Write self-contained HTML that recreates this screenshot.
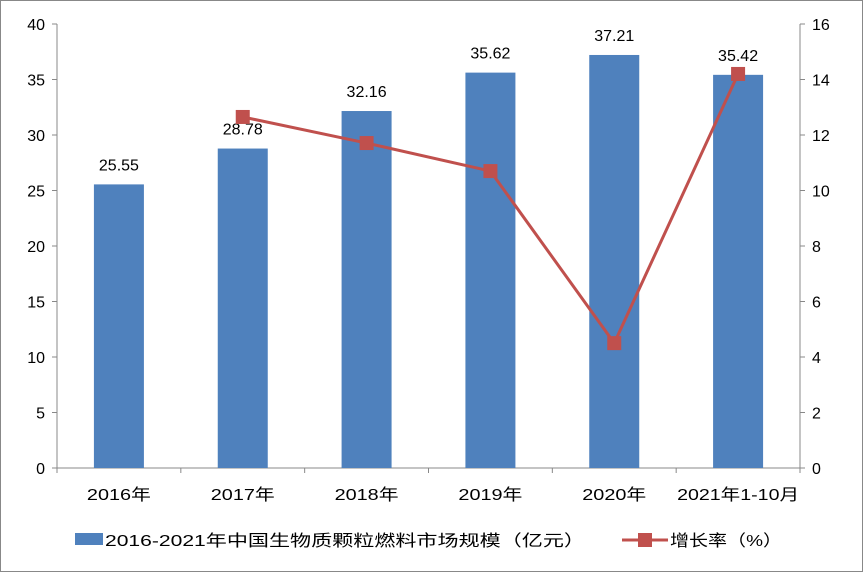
<!DOCTYPE html>
<html><head><meta charset="utf-8"><style>
body{margin:0;background:#fff;}
svg text{font-family:"Liberation Sans","Noto Sans CJK SC",sans-serif;font-size:16px;fill:#000;}
</style></head><body>
<svg width="864" height="573" xmlns="http://www.w3.org/2000/svg" id="c">
<rect x="0.5" y="0.5" width="862" height="571" fill="#fff" stroke="#888"/>
</svg>
<script>
const categories=["2016年","2017年","2018年","2019年","2020年","2021年1-10月"];
const barValues=[25.55,28.78,32.16,35.62,37.21,35.42];
const barLabels=["25.55","28.78","32.16","35.62","37.21","35.42"];
const growthValues=[null,12.65,11.71,10.70,4.50,14.20];
const leftTicks=[0,5,10,15,20,25,30,35,40];
const rightTicks=[0,2,4,6,8,10,12,14,16];
const svg=document.getElementById('c');const NS='http://www.w3.org/2000/svg';
const L=57,R=800,T=24,B=468;const cw=(R-L)/categories.length;
const yL=v=>B-(v/40)*(B-T);const yR=v=>B-(v/16)*(B-T);const xC=i=>L+cw*(i+0.5);
function mk(t,a,txt){const e=document.createElementNS(NS,t);for(const k in a)e.setAttribute(k,a[k]);if(txt!==undefined)e.textContent=txt;svg.appendChild(e);return e;}
let e;
e=mk('line',{x1:L,y1:T,x2:L,y2:B,stroke:'#888'});
e=mk('line',{x1:R,y1:T,x2:R,y2:B,stroke:'#888'});
e=mk('line',{x1:L,y1:B,x2:R,y2:B,stroke:'#888'});
leftTicks.forEach(v=>{mk('line',{x1:L-5,y1:yL(v),x2:L,y2:yL(v),stroke:'#888'});
e=mk('text',{x:L-12,y:yL(v)+6,'text-anchor':'end'},v);});
rightTicks.forEach(v=>{mk('line',{x1:R,y1:yR(v),x2:R+5,y2:yR(v),stroke:'#888'});
e=mk('text',{x:R+12,y:yR(v)+6,'text-anchor':'start'},v);});
categories.forEach((c,i)=>{mk('line',{x1:L+cw*i,y1:B,x2:L+cw*i,y2:B+5,stroke:'#888'});
e=mk('text',{x:xC(i),y:B+32,'text-anchor':'middle',textLength:i==5?122:64,lengthAdjust:'spacingAndGlyphs'},c);});
mk('line',{x1:R,y1:B,x2:R,y2:B+5,stroke:'#888'});
barValues.forEach((v,i)=>{e=mk('rect',{x:xC(i)-25,y:yL(v),width:50,height:B-yL(v),fill:'#4f81bd'});
e=mk('text',{x:xC(i),y:yL(v)-14,'text-anchor':'middle'},barLabels[i]);});
const pts=[];growthValues.forEach((v,i)=>{if(v!==null)pts.push([xC(i),yR(v)]);});
e=mk('polyline',{points:pts.map(p=>p.join(',')).join(' '),fill:'none',stroke:'#c0504d','stroke-width':3});
pts.forEach(p=>{e=mk('rect',{x:p[0]-7,y:p[1]-7,width:14,height:14,fill:'#c0504d'});});
e=mk('rect',{x:75,y:533,width:28,height:12,fill:'#4f81bd'});
e=mk('text',{x:105,y:546,textLength:480,lengthAdjust:'spacingAndGlyphs'},'2016-2021年中国生物质颗粒燃料市场规模（亿元）');
e=mk('line',{x1:622,y1:540,x2:668,y2:540,stroke:'#c0504d','stroke-width':3});
mk('rect',{x:638,y:533,width:14,height:14,fill:'#c0504d'});
e=mk('text',{x:670,y:546,textLength:112,lengthAdjust:'spacingAndGlyphs'},'增长率（%）');
</script>
</body></html>
